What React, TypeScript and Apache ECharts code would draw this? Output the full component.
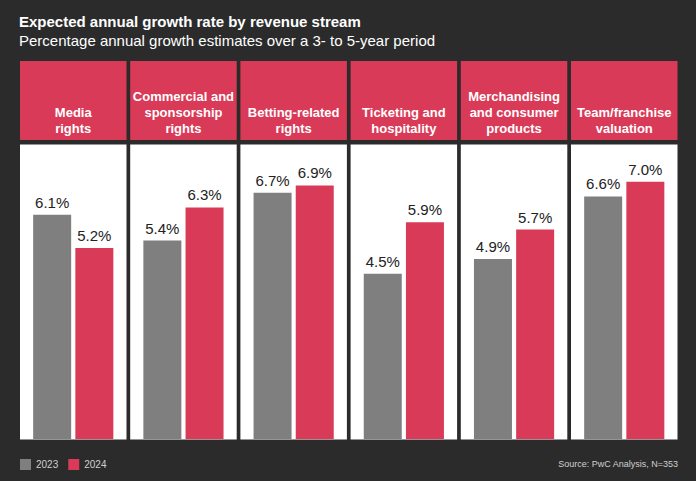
import React, { useEffect, useRef } from "react";
import * as echarts from "echarts";

const categories = [
  "Media\nrights",
  "Commercial and\nsponsorship\nrights",
  "Betting-related\nrights",
  "Ticketing and\nhospitality",
  "Merchandising\nand consumer\nproducts",
  "Team/franchise\nvaluation",
];
const values2023 = [6.1, 5.4, 6.7, 4.5, 4.9, 6.6];
const values2024 = [5.2, 6.3, 6.9, 5.9, 5.7, 7.0];
const years = ["2023", "2024"];

const BG = "#2b2b2b";
const RED = "#d93a57";
const GREY = "#7f7f7f";

export default function App() {
  const ref = useRef<HTMLDivElement>(null);
  useEffect(() => {
    if (!ref.current) return;
    const chart = echarts.init(ref.current, undefined, { renderer: "svg" });
    const pitch = 110.2;
    const panelW = 106.5;
    const panelLeft = (i: number) => 20 + i * pitch;
    const grids: any[] = [];
    const xAxes: any[] = [];
    const yAxes: any[] = [];
    const series: any[] = [];
    const graphics: any[] = [];
    categories.forEach((c, i) => {
      const l = panelLeft(i);
      graphics.push({
        type: "rect",
        shape: { x: l, y: 61, width: panelW, height: 79 },
        style: { fill: RED },
        silent: true,
        z: -1,
      });
      graphics.push({
        type: "rect",
        shape: { x: l, y: 144.5, width: panelW, height: 295 },
        style: { fill: "#ffffff" },
        silent: true,
        z: -10,
      });
      graphics.push({
        type: "text",
        x: l + panelW / 2,
        y: 136,
        style: {
          text: c,
          fill: "#ffffff",
          font: "bold 13px 'Liberation Sans', Arial, sans-serif",
          textAlign: "center",
          textVerticalAlign: "bottom",
          lineHeight: 16,
        },
        silent: true,
      });
      grids.push({ left: l + 12, width: panelW - 24, top: 145, bottom: 42 });
      xAxes.push({
        type: "category",
        gridIndex: i,
        data: [c],
        show: false,
      });
      yAxes.push({
        type: "value",
        gridIndex: i,
        min: 0,
        max: 8,
        show: false,
      });
      [values2023, values2024].forEach((arr, k) => {
        series.push({
          name: years[k],
          type: "bar",
          xAxisIndex: i,
          yAxisIndex: i,
          data: [arr[i]],
          barWidth: 38,
          barGap: "11%",
          itemStyle: { color: k === 0 ? GREY : RED },
          label: {
            show: true,
            position: "top",
            distance: 5,
            formatter: (p: any) => p.value.toFixed(1) + "%",
            color: "#222222",
            fontSize: 15,
            fontFamily: "'Liberation Sans', Arial, sans-serif",
          },
        });
      });
    });
    graphics.push({
      type: "text",
      x: 678,
      y: 464,
      style: {
        text: "Source: PwC Analysis, N=353",
        fill: "#d0d0d0",
        font: "9px 'Liberation Sans', Arial, sans-serif",
        textAlign: "right",
        textVerticalAlign: "middle",
      },
      silent: true,
    });
    chart.setOption({
      animation: false,
      backgroundColor: BG,
      title: {
        text: "Expected annual growth rate by revenue stream",
        subtext: "Percentage annual growth estimates over a 3- to 5-year period",
        left: 14,
        top: 9,
        itemGap: 4,
        textStyle: {
          color: "#ffffff",
          fontSize: 15,
          fontWeight: "bold",
          fontFamily: "'Liberation Sans', Arial, sans-serif",
        },
        subtextStyle: {
          color: "#ffffff",
          fontSize: 15,
          fontFamily: "'Liberation Sans', Arial, sans-serif",
        },
      },
      legend: {
        data: years,
        left: 15,
        top: 454,
        icon: "rect",
        itemWidth: 11,
        itemHeight: 11,
        itemGap: 10,
        textStyle: {
          color: "#d0d0d0",
          fontSize: 10,
          fontFamily: "'Liberation Sans', Arial, sans-serif",
        },
      },
      grid: grids,
      xAxis: xAxes,
      yAxis: yAxes,
      series,
      graphic: graphics,
    });
    return () => chart.dispose();
  }, []);
  return (
    <div
      ref={ref}
      style={{ position: "absolute", left: 0, top: 0, width: 696, height: 481 }}
    />
  );
}
